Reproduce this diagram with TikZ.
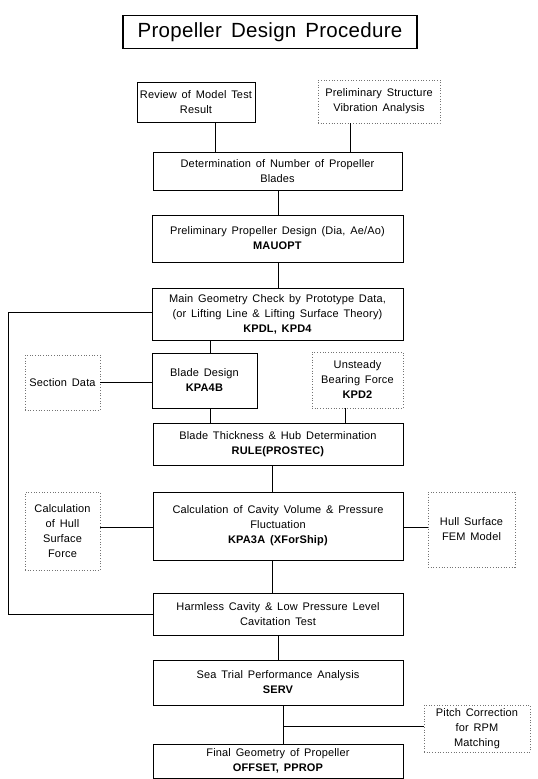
\documentclass[tikz,border=0pt]{standalone}
\usepackage{fontspec}
\setmainfont{Liberation Sans}[LetterSpace=1.5, WordSpace=1.5]
\begin{document}
\begin{tikzpicture}[x=1pt,y=-1pt,
  box/.style={draw, line width=1pt, align=center, inner sep=1pt, font=\fontsize{11}{15}\selectfont},
  dbox/.style={draw=black!55, dotted, line width=0.7pt, align=center, inner sep=1pt, font=\fontsize{11}{15}\selectfont},
  link/.style={line width=0.9pt}]
\useasboundingbox (0,0) rectangle (538,779);
\fill[white] (0,0) rectangle (538,779);

\node[box, line width=1.1pt, minimum width=294pt, minimum height=33pt, font=\fontsize{20.5}{24}\selectfont] (title) at (270,32) {Propeller Design Procedure};

\node[box, minimum width=118pt, minimum height=40pt] (review) at (196,102) {Review of Model Test\\Result};
\node[dbox, minimum width=122pt, minimum height=43pt] (prelim) at (379,101.5) {Preliminary Structure\\Vibration Analysis};

\node[box, minimum width=249pt, minimum height=38pt] (determ) at (277.5,171) {Determination of Number of Propeller\\Blades};
\node[box, minimum width=251pt, minimum height=47pt] (pprop) at (277.5,238.5) {Preliminary Propeller Design (Dia, Ae/Ao)\\\textbf{MAUOPT}};
\node[box, minimum width=251pt, minimum height=52pt] (geom) at (277.5,314) {Main Geometry Check by Prototype Data,\\(or Lifting Line \& Lifting Surface Theory)\\\textbf{KPDL, KPD4}};

\node[dbox, minimum width=75pt, minimum height=55pt] (section) at (62.5,382.5) {Section Data};
\node[box, minimum width=105pt, minimum height=55pt] (blade) at (204.5,380.5) {Blade Design\\\textbf{KPA4B}};
\node[dbox, minimum width=91pt, minimum height=56pt] (unsteady) at (357.5,380) {Unsteady\\Bearing Force\\\textbf{KPD2}};

\node[box, minimum width=250pt, minimum height=42pt] (thick) at (278,444) {Blade Thickness \& Hub Determination\\\textbf{RULE(PROSTEC)}};

\node[dbox, minimum width=75pt, minimum height=78pt] (hullforce) at (62.5,531) {Calculation\\of Hull\\Surface\\Force};
\node[box, minimum width=250pt, minimum height=68pt] (cavity) at (278,526) {Calculation of Cavity Volume \& Pressure\\Fluctuation\\\textbf{KPA3A (XForShip)}};
\node[dbox, minimum width=87pt, minimum height=75pt] (fem) at (471.5,529.5) {Hull Surface\\FEM Model};

\node[box, minimum width=250pt, minimum height=42pt] (harmless) at (278,614) {Harmless Cavity \& Low Pressure Level\\Cavitation Test};
\node[box, minimum width=250pt, minimum height=45pt] (sea) at (278,682.5) {Sea Trial Performance Analysis\\\textbf{SERV}};
\node[dbox, minimum width=106pt, minimum height=47pt] (pitch) at (477,728.5) {Pitch Correction\\for RPM\\Matching};
\node[box, minimum width=250pt, minimum height=34pt] (final) at (278,761) {Final Geometry of Propeller\\\textbf{OFFSET, PPROP}};

% connectors
\draw[link] (review.south -| 215,0) -- (determ.north -| 215,0);
\draw[link] (prelim.south -| 350,0) -- (determ.north -| 350,0);
\draw[link] (determ.south -| 278,0) -- (pprop.north -| 278,0);
\draw[link] (pprop.south -| 278,0) -- (geom.north -| 278,0);
\coordinate (lt) at (8,312);
\coordinate (lb) at (8,614);
\draw[link] (geom.west |- lt) -- (lt) -- (lb) -- (harmless.west);
\draw[link] (geom.south -| 210,0) -- (blade.north -| 210,0);
\draw[link] (section.east |- 0,382) -- (blade.west |- 0,382);
\draw[link] (blade.south -| 210,0) -- (thick.north -| 210,0);
\draw[link] (unsteady.south -| 345,0) -- (thick.north -| 345,0);
\draw[link] (thick.south -| 272,0) -- (cavity.north -| 272,0);
\draw[link] (hullforce.east |- 0,527) -- (cavity.west |- 0,527);
\draw[link] (cavity.east |- 0,527) -- (fem.west |- 0,527);
\draw[link] (cavity.south -| 272,0) -- (harmless.north -| 272,0);
\draw[link] (harmless.south -| 278,0) -- (sea.north -| 278,0);
\draw[link] (sea.south -| 283,0) -- (final.north -| 283,0);
\coordinate (j) at (283,726);
\draw[link] (j) -- (pitch.west |- j);
\end{tikzpicture}
\end{document}
